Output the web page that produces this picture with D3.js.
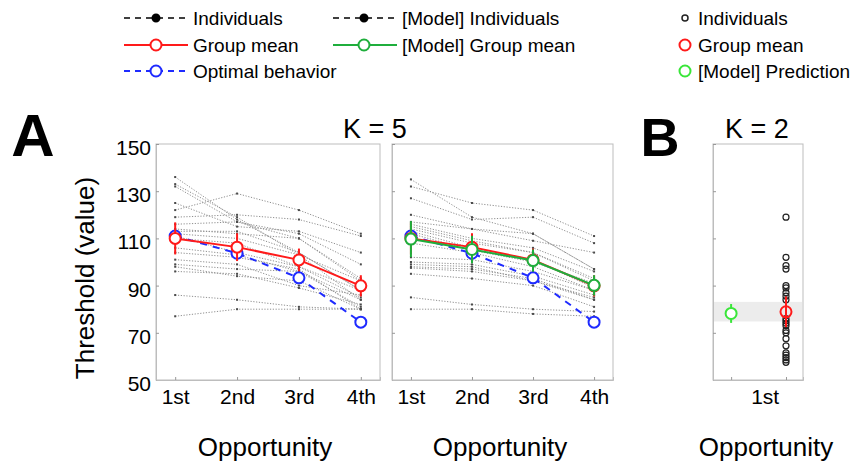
<!DOCTYPE html>
<html lang="en">
<head>
<meta charset="UTF-8">
<title>Threshold by opportunity</title>
<script src="https://d3js.org/d3.v7.min.js"></script>
<style>
    body { margin: 0; background: #fff; }
    text { font-family: 'Liberation Sans', Arial, sans-serif; fill: #000; }
</style>
</head>
<body>
<script>
    const width = 855;
    const height = 464;

    const opportunities = ["1st", "2nd", "3rd", "4th"];
    const yTicks = [50, 70, 90, 110, 130, 150];

    // participants, threshold at each opportunity (K = 5)
    const individuals = [
        [136, 118, 104, 88],
        [133, 119, 103, 84],
        [132, 117, 110, 92],
        [125, 115, 113, 104],
        [122, 129, 122, 112],
        [119, 120, 118, 111],
        [116, 117, 112, 99],
        [114, 112, 110, 93],
        [113, 113, 104, 88],
        [112, 110, 103, 92],
        [111, 104, 98, 85],
        [110, 108, 98, 88],
        [106, 103, 96, 81],
        [104, 102, 97, 80],
        [101, 99, 90, 86],
        [99, 97, 96, 84],
        [98, 94, 92, 80],
        [96, 95, 89, 82],
        [86, 84, 81, 80],
        [77, 80, 80, 80]
    ];
    const groupMean = [110, 106.3, 100.9, 89.9];
    const groupErr = [6.8, 5.9, 4.8, 4.5];
    const optimal = [111, 103.7, 93.3, 74.5];

    // simulated participants
    const modelIndividuals = [
        [135, 119, 112, 97],
        [132, 125, 122, 111],
        [127, 118, 119, 108],
        [120, 114, 109, 104],
        [117, 114, 112, 97],
        [116, 110, 106, 96],
        [115, 109, 104, 93],
        [114, 108, 104, 92],
        [113, 106, 101, 89],
        [112, 105, 100, 91],
        [108, 104, 98, 88],
        [102, 101, 96, 88],
        [100, 99, 94, 86],
        [99, 98, 92, 85],
        [98, 97, 93, 84],
        [97.5, 96, 92, 84],
        [95, 93, 90, 81],
        [85, 82, 80, 79],
        [80, 80, 78, 77]
    ];
    const modelMean = [109.7, 105.3, 100.6, 90.1];
    const modelErr = [7.6, 5.8, 4.7, 4.3];

    // panel B, K = 2, first opportunity only
    const bIndividuals = [119, 102, 98.5, 97, 90, 89, 87, 85.5, 84, 76, 75, 74, 73, 71, 70,
                          67.5, 64.5, 61.5, 60.5, 59.5, 58.5, 57.5];
    const bMean = 78.9;
    const bErr = 6.5;
    const bPrediction = 78.2;
    const bPredErr = 4;
    const bBand = [74.8, 83.1];

    const RED = "#ff1a1a", GREEN = "#1fae3c", LIME = "#39e639", BLUE = "#1f2bff";
    const AXIS = "#bdbdbd";

    const svg = d3.select("body").append("svg").attr("width", width).attr("height", height);

    const y = d3.scaleLinear().domain([50, 150]).range([380, 144]);
    const xLeft = d3.scaleLinear().domain([0.69, 4.31]).range([156, 380]);
    const xRight = d3.scaleLinear().domain([0.69, 4.31]).range([392, 613]);
    const xB = d3.scaleLinear().domain([-0.33, 1.31]).range([713, 803]);

    function frame(x, labels, xTicks, xFormat) {
        const g = svg.append("g");
        const [x0, x1] = x.range();
        g.append("rect")
            .attr("x", x0).attr("y", y(150))
            .attr("width", x1 - x0).attr("height", y(50) - y(150))
            .style("fill", "none").style("stroke", AXIS);
        const left = g.append("g").attr("transform", `translate(${x0},0)`)
            .call(d3.axisLeft(y).tickValues(yTicks).tickSize(-3).tickPadding(5)
                  .tickFormat(labels ? d3.format("d") : ""));
        left.selectAll("text").attr("dy", "0.5em");
        const bottom = g.append("g").attr("transform", `translate(0,${y(50)})`)
            .call(d3.axisBottom(x).tickValues(xTicks).tickSize(-3).tickPadding(9).tickFormat(xFormat));
        [left, bottom].forEach(a => {
            a.select(".domain").style("stroke", AXIS);
            a.selectAll(".tick line").style("stroke", "#999");
            a.selectAll("text").style("font-size", "21px").style("fill", "#000")
                .style("font-family", "'Liberation Sans', Arial, sans-serif");
        });
        return g;
    }

    function drawIndividuals(g, x, rows) {
        const line = d3.line().x((d, i) => x(i + 1)).y(d => y(d));
        g.selectAll(null).data(rows).enter().append("path")
            .attr("d", line)
            .style("fill", "none").style("stroke", "#8f8f8f")
            .style("stroke-width", 1).style("stroke-dasharray", "1.2,1.6");
        g.selectAll(null).data(rows.flatMap(r => r.map((v, i) => [i + 1, v]))).enter().append("rect")
            .attr("x", d => x(d[0]) - 1).attr("y", d => y(d[1]) - 1)
            .attr("width", 2).attr("height", 2)
            .style("fill", "#4a4a4a");
    }

    function drawMean(g, x, mean, err, colour, dashed) {
        const line = d3.line().x((d, i) => x(i + 1)).y(d => y(d));
        g.append("path").datum(mean).attr("d", line)
            .style("fill", "none").style("stroke", colour).style("stroke-width", 2)
            .style("stroke-dasharray", dashed ? "7,6" : null);
        if (err) {
            g.selectAll(null).data(mean).enter().append("line")
                .attr("x1", (d, i) => x(i + 1)).attr("x2", (d, i) => x(i + 1))
                .attr("y1", (d, i) => y(d - err[i])).attr("y2", (d, i) => y(d + err[i]))
                .style("stroke", colour).style("stroke-width", 2);
        }
        g.selectAll(null).data(mean).enter().append("circle")
            .attr("cx", (d, i) => x(i + 1)).attr("cy", d => y(d)).attr("r", 5.5)
            .style("fill", "#fff").style("stroke", colour).style("stroke-width", 2);
    }

    // panel A, experiment
    const gL = frame(xLeft, true, [1, 2, 3, 4], (d, i) => opportunities[i]);
    drawIndividuals(gL, xLeft, individuals);
    drawMean(gL, xLeft, optimal, null, BLUE, true);
    drawMean(gL, xLeft, groupMean, groupErr, RED, false);

    // panel A, model
    const gR = frame(xRight, false, [1, 2, 3, 4], (d, i) => opportunities[i]);
    drawIndividuals(gR, xRight, modelIndividuals);
    drawMean(gR, xRight, optimal, null, BLUE, true);
    drawMean(gR, xRight, groupMean, groupErr, RED, false);
    drawMean(gR, xRight, modelMean, modelErr, GREEN, false);

    // panel B
    svg.append("rect")
        .attr("x", xB.range()[0] + 1).attr("width", xB.range()[1] - xB.range()[0] - 2)
        .attr("y", y(bBand[1])).attr("height", y(bBand[0]) - y(bBand[1]))
        .style("fill", "#ececec");
    const gB = frame(xB, false, [0, 1], "");
    gB.selectAll(null).data(bIndividuals).enter().append("circle")
        .attr("cx", xB(1)).attr("cy", d => y(d)).attr("r", 3)
        .style("fill", "none").style("stroke", "#222").style("stroke-width", 1.2);
    gB.append("line").attr("x1", xB(0)).attr("x2", xB(0))
        .attr("y1", y(bPrediction - bPredErr)).attr("y2", y(bPrediction + bPredErr))
        .style("stroke", LIME).style("stroke-width", 2);
    gB.append("circle").attr("cx", xB(0)).attr("cy", y(bPrediction)).attr("r", 5.5)
        .style("fill", "#fff").style("stroke", LIME).style("stroke-width", 2);
    gB.append("line").attr("x1", xB(1)).attr("x2", xB(1))
        .attr("y1", y(bMean - bErr)).attr("y2", y(bMean + bErr))
        .style("stroke", RED).style("stroke-width", 2);
    gB.append("circle").attr("cx", xB(1)).attr("cy", y(bMean)).attr("r", 5.5)
        .style("fill", "none").style("stroke", RED).style("stroke-width", 2);
    gB.append("text").attr("x", xB(0.62)).attr("y", 404).attr("text-anchor", "middle")
        .style("font-size", "21px").text("1st");

    // titles and labels
    svg.append("text").attr("x", 33).attr("y", 156).attr("text-anchor", "middle")
        .style("font-size", "60px").style("font-weight", "bold").text("A");
    svg.append("text").attr("x", 660).attr("y", 156).attr("text-anchor", "middle")
        .style("font-size", "54px").style("font-weight", "bold").text("B");
    svg.append("text").attr("x", 375).attr("y", 138).attr("text-anchor", "middle")
        .style("font-size", "27px").text("K = 5");
    svg.append("text").attr("x", 757).attr("y", 138).attr("text-anchor", "middle")
        .style("font-size", "27px").text("K = 2");
    svg.append("text").attr("transform", "translate(94,278) rotate(-90)").attr("text-anchor", "middle")
        .style("font-size", "26px").text("Threshold (value)");
    [[xLeft, 265], [xRight, 500], [xB, 766]].forEach(([x, cx]) => {
        svg.append("text").attr("x", cx).attr("y", 456).attr("text-anchor", "middle")
            .style("font-size", "26px").text("Opportunity");
    });

    // legend
    const legendRows = [18, 45, 71];
    const legendLines = [
        {x0: 124, x1: 188, m: 156, row: 0, colour: "#000", dash: "6,5", dot: true, label: "Individuals"},
        {x0: 124, x1: 188, m: 156, row: 1, colour: RED, dash: null, dot: false, label: "Group mean"},
        {x0: 124, x1: 188, m: 156, row: 2, colour: BLUE, dash: "6,5", dot: false, label: "Optimal behavior"},
        {x0: 333, x1: 397, m: 364, row: 0, colour: "#000", dash: "6,5", dot: true, label: "[Model] Individuals"},
        {x0: 333, x1: 397, m: 364, row: 1, colour: GREEN, dash: null, dot: false, label: "[Model] Group mean"}
    ];
    const lg = svg.append("g");
    legendLines.forEach(d => {
        const ly = legendRows[d.row];
        lg.append("line").attr("x1", d.x0).attr("x2", d.x1).attr("y1", ly).attr("y2", ly)
            .style("stroke", d.colour).style("stroke-width", d.dot ? 1.5 : 2)
            .style("stroke-dasharray", d.dash);
        lg.append("circle").attr("cx", d.m).attr("cy", ly).attr("r", d.dot ? 3.5 : 5.5)
            .style("fill", d.dot ? "#000" : "#fff").style("stroke", d.colour).style("stroke-width", 2);
        lg.append("text").attr("x", d.x1 + 5).attr("y", ly).attr("dy", "0.35em")
            .style("font-size", "19px").text(d.label);
    });
    const legendMarks = [
        {row: 0, r: 3, colour: "#222", label: "Individuals"},
        {row: 1, r: 5.5, colour: RED, label: "Group mean"},
        {row: 2, r: 5.5, colour: LIME, label: "[Model] Prediction"}
    ];
    legendMarks.forEach(d => {
        const ly = legendRows[d.row];
        lg.append("circle").attr("cx", 685).attr("cy", ly).attr("r", d.r)
            .style("fill", "none").style("stroke", d.colour).style("stroke-width", d.r > 4 ? 2 : 1.5);
        lg.append("text").attr("x", 698).attr("y", ly).attr("dy", "0.35em")
            .style("font-size", "19px").text(d.label);
    });
</script>
</body>
</html>
